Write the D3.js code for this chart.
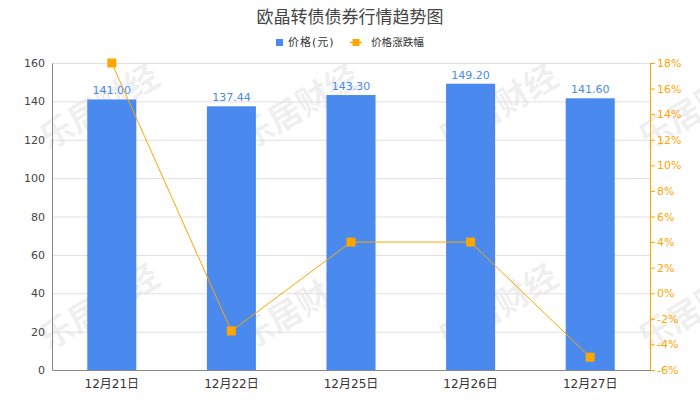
<!DOCTYPE html>
<html><head><meta charset="utf-8">
<script src="https://cdn.jsdelivr.net/npm/d3@7/dist/d3.min.js"></script>
<style>body{margin:0;background:#fff;}svg{display:block;font-family:"DejaVu Sans","Noto Sans CJK SC",sans-serif;}</style>
</head><body><svg id="c" width="700" height="400"></svg>
<script>
const categories = ["12月21日","12月22日","12月25日","12月26日","12月27日"];
const prices = [141.00, 137.44, 143.30, 149.20, 141.60];
const changes = [18.0, -2.95, 4.0, 4.0, -5.0];
const leftTicks = [0,20,40,60,80,100,120,140,160];
const rightTicks = [-6,-4,-2,0,2,4,6,8,10,12,14,16,18];
const title = "欧晶转债债券行情趋势图";
const legendNames = ["价格(元)","价格涨跌幅"];

const svg = d3.select("#c");
const L=52, R=650, T=63, B=370;
const blue="#4a89ee", orange="#ffa500";
const cjk = "'DejaVu Sans','Noto Sans CJK SC',sans-serif";

const x = d3.scaleBand().domain(categories).range([L,R]).paddingInner(0).paddingOuter(0);
const yL = d3.scaleLinear().domain([0,160]).range([B,T]);
const yR = d3.scaleLinear().domain([-6,18]).range([B,T]);

// watermarks
const wm = svg.append("g");
[98,298,497,697].forEach(cx=>{
  [105,305].forEach(cy=>{
    wm.append("text").attr("transform",`translate(${cx},${cy}) rotate(-31)`)
      .attr("text-anchor","middle").attr("dominant-baseline","central")
      .attr("font-family","'Noto Sans CJK SC',sans-serif")
      .attr("font-size",33).attr("font-weight","bold").attr("fill","#000").attr("fill-opacity",0.075)
      .text("乐居财经");
  });
});

// grid
svg.append("g").selectAll("line").data(leftTicks.filter(d=>d>0)).join("line")
  .attr("x1",L).attr("x2",R).attr("y1",d=>yL(d)+0.5).attr("y2",d=>yL(d)+0.5)
  .attr("stroke","#e0e0e0").attr("stroke-width",1);

// bars
const bw = x.bandwidth()*0.41;
svg.append("g").selectAll("rect").data(prices).join("rect")
  .attr("x",(d,i)=>x(categories[i])+x.bandwidth()/2-bw/2)
  .attr("width",bw).attr("y",d=>yL(d)).attr("height",d=>B-yL(d)).attr("fill",blue);
svg.append("g").selectAll("text").data(prices).join("text")
  .attr("x",(d,i)=>x(categories[i])+x.bandwidth()/2).attr("y",d=>yL(d)-5)
  .attr("text-anchor","middle").attr("font-size",11).attr("fill",blue)
  .attr("font-family","'DejaVu Sans',sans-serif")
  .text(d=>d.toFixed(2));

// left axis
const ga = svg.append("g").attr("transform",`translate(${L},0)`)
  .call(d3.axisLeft(yL).tickValues(leftTicks).tickSize(0).tickPadding(7));
ga.select(".domain").attr("stroke","#888");
ga.selectAll("text").attr("font-size",11).attr("fill","#444").attr("font-family","'DejaVu Sans',sans-serif");

// right axis
const gr = svg.append("g").attr("transform",`translate(${R},0)`)
  .call(d3.axisRight(yR).tickValues(rightTicks).tickSize(5).tickPadding(2).tickFormat(d=>d+"%"));
gr.select(".domain").attr("stroke",orange);
gr.selectAll(".tick line").attr("stroke",orange);
gr.selectAll("text").attr("font-size",11).attr("fill",orange).attr("font-family","'DejaVu Sans',sans-serif");

// bottom axis
const gb = svg.append("g").attr("transform",`translate(0,${B})`)
  .call(d3.axisBottom(x).tickSize(0).tickPadding(9));
gb.select(".domain").attr("stroke","#888");
gb.selectAll("text").attr("font-size",12).attr("fill","#333").attr("font-family",cjk);

// line
const line = d3.line().x((d,i)=>x(categories[i])+x.bandwidth()/2).y(d=>yR(d));
svg.append("path").datum(changes).attr("d",line).attr("fill","none").attr("stroke",orange).attr("stroke-width",1);
svg.append("g").selectAll("rect").data(changes).join("rect")
  .attr("x",(d,i)=>x(categories[i])+x.bandwidth()/2-4.5).attr("y",d=>yR(d)-4.5)
  .attr("width",9).attr("height",9).attr("fill",orange);

// title
svg.append("text").attr("x",350).attr("y",23).attr("text-anchor","middle")
  .attr("font-family","'Noto Sans CJK SC',sans-serif")
  .attr("font-size",17).attr("fill","#444").text(title);

// legend
const lg = svg.append("g");
lg.append("rect").attr("x",276).attr("y",39).attr("width",7).attr("height",7).attr("fill",blue);
lg.append("text").attr("x",288).attr("y",46).attr("font-size",11).attr("letter-spacing",1).attr("fill","#333").attr("font-family",cjk).text(legendNames[0]);
lg.append("line").attr("x1",350).attr("x2",362).attr("y1",42.5).attr("y2",42.5).attr("stroke",orange).attr("stroke-width",1.5);
lg.append("rect").attr("x",352.5).attr("y",39).attr("width",7).attr("height",7).attr("fill",orange);
lg.append("text").attr("x",371).attr("y",46).attr("font-size",10.6).attr("fill","#333").attr("font-family",cjk).text(legendNames[1]);
</script></body></html>
